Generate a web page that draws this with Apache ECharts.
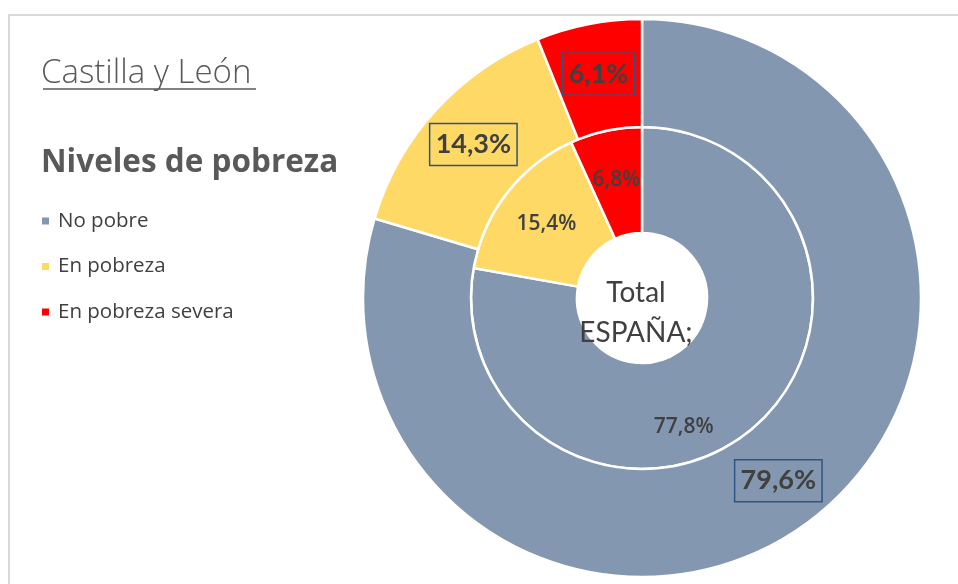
<!DOCTYPE html>
<html>
<head>
<meta charset="utf-8">
<script src="https://cdn.jsdelivr.net/npm/echarts@6/dist/echarts.min.js"></script>
<style>
  html, body { margin: 0; padding: 0; background: #fff; }
  #chart { width: 958px; height: 584px; }
</style>
</head>
<body>
<div id="chart"></div>
<script>
// Poverty levels: Castilla y León (outer ring) vs. Spain total (inner ring)
const categories = ['No pobre', 'En pobreza', 'En pobreza severa'];
const colors = ['#8497B0', '#FFD966', '#FF0000'];
const castillaLeon = [79.6, 14.3, 6.1];
const espana = [77.8, 15.4, 6.8];

const FONT = 'Lato, "Open Sans", sans-serif';
const WIDE = '"Open Sans", Lato, sans-serif';
const TEXT = '#404040';

function fmt(v) {
  return v.toFixed(1).replace('.', ',') + '%';
}

const chart = echarts.init(document.getElementById('chart'), null, { renderer: 'canvas' });

const outerData = categories.map((name, i) => ({
  name, value: castillaLeon[i], itemStyle: { color: colors[i] }
}));
const innerData = categories.map((name, i) => ({
  name, value: espana[i], itemStyle: { color: colors[i] },
  label: i === 0 ? { offset: [-36, 36] } : undefined
}));

chart.setOption({
  backgroundColor: '#fff',
  animation: false,
  title: [
    {
      text: 'Castilla y León',
      left: 41, top: 57, padding: 0,
      textStyle: { fontFamily: WIDE, fontWeight: 300, fontSize: 33, color: '#595959' }
    },
    {
      text: 'Niveles de pobreza',
      left: 41, top: 147, padding: 0,
      textStyle: { fontFamily: WIDE, fontWeight: 'bold', fontSize: 31.5, color: '#595959' }
    }
  ],
  legend: {
    orient: 'vertical',
    left: 35, top: 205.5,
    icon: 'rect',
    itemWidth: 9, itemHeight: 9,
    itemGap: 24.5,
    data: categories,
    textStyle: { fontFamily: WIDE, fontSize: 20.5, color: TEXT, padding: [0, 0, 0, 3], lineHeight: 21 }
  },
  graphic: [
    {
      type: 'rect', silent: true,
      shape: { x: 9, y: 15, width: 1200, height: 1000 },
      style: { fill: 'none', stroke: '#D9D9D9', lineWidth: 2 }
    },
    {
      type: 'line', silent: true,
      shape: { x1: 43, y1: 89, x2: 256, y2: 89 },
      style: { stroke: '#595959', lineWidth: 1.5 }
    },
    {
      type: 'text', silent: true, z: 100,
      x: 636, y: 313,
      style: {
        text: 'Total\nESPAÑA;',
        fontFamily: FONT, fontSize: 28, lineHeight: 40,
        fill: TEXT, align: 'center', verticalAlign: 'middle'
      }
    }
  ],
  series: [
    {
      name: 'Total ESPAÑA',
      type: 'pie',
      center: [642, 298],
      radius: [65, 171],
      startAngle: 90,
      clockwise: true,
      avoidLabelOverlap: false,
      itemStyle: { borderColor: '#fff', borderWidth: 2.5 },
      label: {
        position: 'inside',
        formatter: p => fmt(p.value),
        fontFamily: WIDE, fontSize: 21, fontWeight: 600, color: TEXT
      },
      labelLine: { show: false },
      emphasis: { disabled: true },
      data: innerData
    },
    {
      name: 'Castilla y León',
      type: 'pie',
      center: [642, 298],
      radius: [171, 279],
      startAngle: 90,
      clockwise: true,
      avoidLabelOverlap: false,
      itemStyle: { borderColor: '#fff', borderWidth: 2.5 },
      label: {
        position: 'inside',
        formatter: p => fmt(p.value),
        fontFamily: FONT, fontSize: 27, fontWeight: 'bold', color: TEXT,
        borderColor: '#2E5484', borderWidth: 1.5,
        padding: [8, 6, 7, 6]
      },
      labelLine: { show: false },
      emphasis: { disabled: true },
      data: outerData
    }
  ]
});
</script>
</body>
</html>
